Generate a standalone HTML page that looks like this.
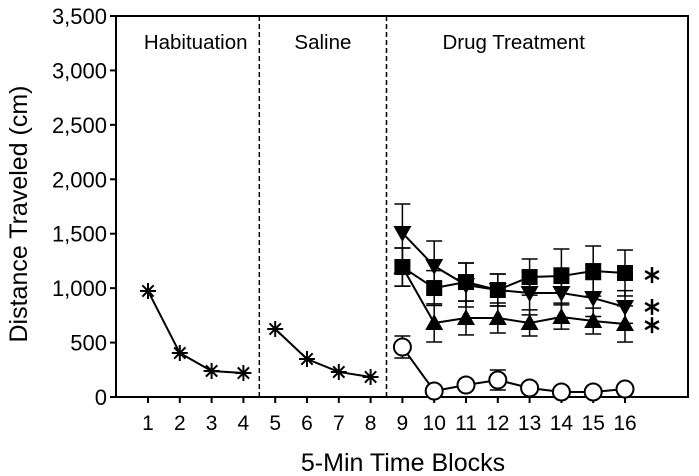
<!DOCTYPE html><html><head><meta charset="utf-8"><style>body{margin:0;background:#fff}svg{display:block;font-family:"Liberation Sans",Arial,sans-serif}</style></head><body>
<svg id="c" width="699" height="476"></svg>
<script>
const blocks=[1,2,3,4,5,6,7,8,9,10,11,12,13,14,15,16];
const yTicks=[0,500,1000,1500,2000,2500,3000,3500];
const yTickLabels=["0","500","1,000","1,500","2,000","2,500","3,000","3,500"];
const habX=[1,2,3,4],habY=[974,404,239,220];
const salX=[5,6,7,8],salY=[625,349,230,184];
const drugX=[9,10,11,12,13,14,15,16];
const squareY=[1194,1001,1056,983,1102,1111,1157,1139];
const squareErr=[175,160,175,147,166,249,230,211];
const invTriY=[1507,1203,1029,983,955,955,909,827];
const invTriErr=[266,230,202,147,200,230,170,150];
const triY=[1194,680,726,726,680,735,698,671];
const triErr=[175,175,156,138,120,111,119,166];
const circY=[459,55,110,156,83,46,46,73];
const circErr=[101,20,30,92,20,10,10,15];
const sections=["Habituation","Saline","Drug Treatment"];
const NS="http://www.w3.org/2000/svg",svg=document.getElementById('c');
const X0=148,DX=31.8,Y0=397,YS=381/3500;
const xs=v=>X0+(v-1)*DX, ys=v=>Y0-v*YS;
function mk(t,a,p){const e=document.createElementNS(NS,t);for(const k in a)e.setAttribute(k,a[k]);(p||svg).appendChild(e);return e;}
let e;
e=mk('rect',{x:116,y:16,width:572,height:381,fill:'none',stroke:'#000','stroke-width':2});

[4.5,8.5].forEach(v=>{e=mk('line',{x1:xs(v),x2:xs(v),y1:16,y2:397,stroke:'#000','stroke-width':1.5,'stroke-dasharray':'5,3'});
});
yTicks.forEach((v,i)=>{mk('line',{x1:110,x2:116,y1:ys(v),y2:ys(v),stroke:'#000','stroke-width':2});
e=mk('text',{x:107,y:ys(v)+8,'text-anchor':'end','font-size':22});e.textContent=yTickLabels[i];
});
blocks.forEach(b=>{mk('line',{x1:xs(b),x2:xs(b),y1:397,y2:403,stroke:'#000','stroke-width':2});
e=mk('text',{x:xs(b),y:430,'text-anchor':'middle','font-size':21});e.textContent=b;
});
e=mk('text',{x:403,y:471,'text-anchor':'middle','font-size':25});e.textContent='5-Min Time Blocks';

e=mk('text',{x:0,y:0,'text-anchor':'middle','font-size':25,transform:'translate(27,214) rotate(-90)'});e.textContent='Distance Traveled (cm)';

[[2.5,sections[0]],[6.5,sections[1]],[12.5,sections[2]]].forEach(([p,t])=>{e=mk('text',{x:xs(p),y:49,'text-anchor':'middle','font-size':20.5});e.textContent=t;
});
function line(X,Y,name){const g=mk('g',{});
mk('polyline',{points:X.map((x,i)=>xs(x)+','+ys(Y[i])).join(' '),fill:'none',stroke:'#000','stroke-width':2},g);return g;}
function errs(X,Y,E,name){X.forEach((x,i)=>{const g=mk('g',{stroke:'#000','stroke-width':1.5});
const a=ys(Y[i]+E[i]),b=ys(Math.max(0,Y[i]-E[i]));mk('line',{x1:xs(x),x2:xs(x),y1:a,y2:b},g);
mk('line',{x1:xs(x)-8,x2:xs(x)+8,y1:a,y2:a},g);mk('line',{x1:xs(x)-8,x2:xs(x)+8,y1:b,y2:b},g);});}
function star(g,cx,cy){for(let k=0;k<4;k++){const an=k*Math.PI/4,r=8;mk('line',{x1:cx-r*Math.cos(an),y1:cy-r*Math.sin(an),x2:cx+r*Math.cos(an),y2:cy+r*Math.sin(an),stroke:'#000','stroke-width':2},g);}}
[[habX,habY,'habituation-series'],[salX,salY,'saline-series']].forEach(([X,Y,n])=>{const g=line(X,Y,n);X.forEach((x,i)=>star(g,xs(x),ys(Y[i])));});
errs(drugX,circY,circErr,'circle-error-bar');errs(drugX,triY,triErr,'triangle-error-bar');
errs(drugX,invTriY,invTriErr,'inv-triangle-error-bar');errs(drugX,squareY,squareErr,'square-error-bar');
let g=line(drugX,circY,'vehicle-series');drugX.forEach((x,i)=>mk('circle',{cx:xs(x),cy:ys(circY[i]),r:8.5,fill:'#fff',stroke:'#000','stroke-width':2},g));
g=line(drugX,triY,'triangle-series');drugX.forEach((x,i)=>{const cx=xs(x),cy=ys(triY[i]);mk('polygon',{points:`${cx},${cy-9} ${cx-9},${cy+7} ${cx+9},${cy+7}`,fill:'#000'},g);});
g=line(drugX,invTriY,'inv-triangle-series');drugX.forEach((x,i)=>{const cx=xs(x),cy=ys(invTriY[i]);mk('polygon',{points:`${cx},${cy+9} ${cx-9},${cy-7} ${cx+9},${cy-7}`,fill:'#000'},g);});
g=line(drugX,squareY,'square-series');drugX.forEach((x,i)=>mk('rect',{x:xs(x)-8,y:ys(squareY[i])-8,width:16,height:16,fill:'#000'},g));
function bigStar(cx,cy){const g=mk('g',{});
for(let k=0;k<3;k++){const an=Math.PI/2+k*Math.PI/3,r=8;mk('line',{x1:cx-r*Math.cos(an),y1:cy-r*Math.sin(an),x2:cx+r*Math.cos(an),y2:cy+r*Math.sin(an),stroke:'#000','stroke-width':2.5},g);}}
[1120,827,660].forEach(v=>bigStar(652,ys(v)));
</script></body></html>
